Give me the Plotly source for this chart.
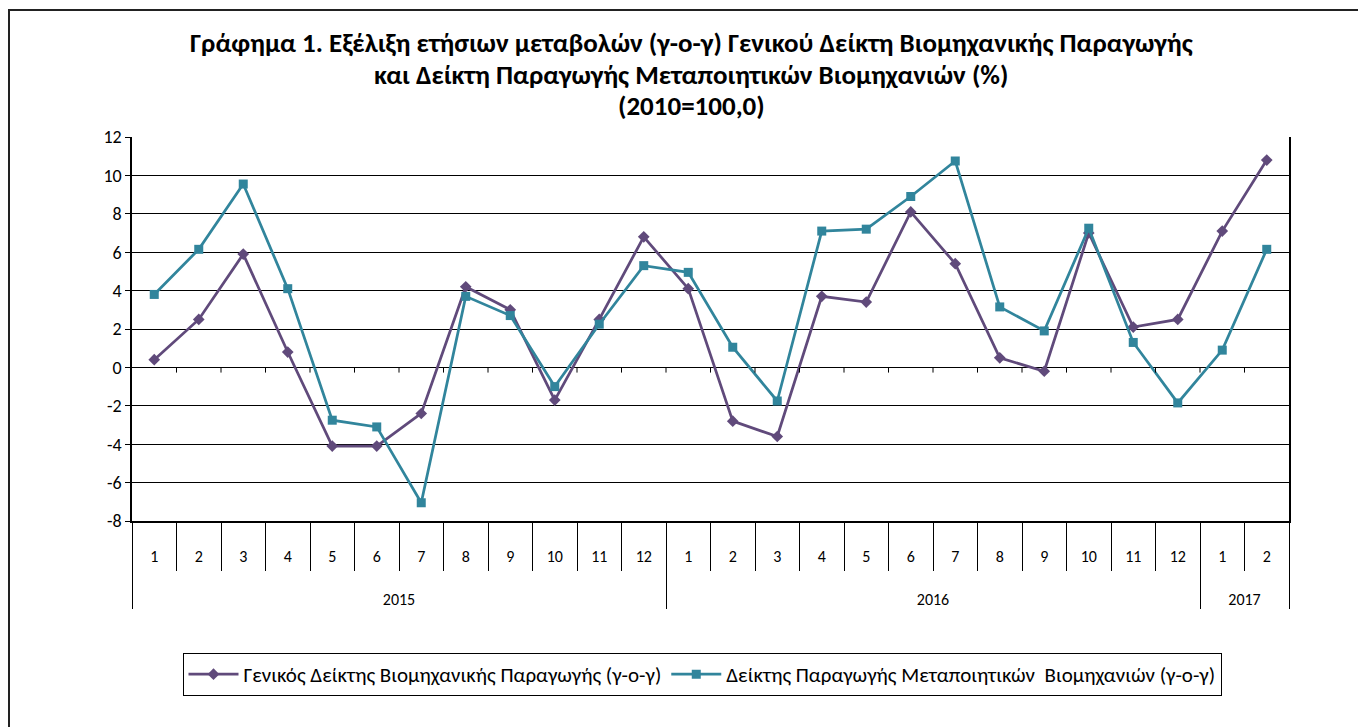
import plotly.graph_objects as go

# ---- data ----
year_labels = ["2015", "2016", "2017"]
months_per_year = [12, 12, 2]
years = [y for y, n in zip(year_labels, months_per_year) for _ in range(n)]
months = [str(m) for n in months_per_year for m in range(1, n + 1)]

general_index = [0.4, 2.5, 5.9, 0.8, -4.1, -4.1, -2.4, 4.2, 3.0, -1.7, 2.5, 6.8,
                 4.1, -2.8, -3.6, 3.7, 3.4, 8.1, 5.4, 0.5, -0.2, 7.0, 2.1, 2.5,
                 7.1, 10.8]
manufacturing_index = [3.8, 6.15, 9.55, 4.1, -2.75, -3.1, -7.05, 3.7, 2.7, -1.0, 2.25, 5.3,
                       4.95, 1.05, -1.75, 7.1, 7.2, 8.9, 10.75, 3.15, 1.9, 7.25, 1.3, -1.85,
                       0.9, 6.15]

series_names = ["Γενικός Δείκτης Βιομηχανικής Παραγωγής (γ-ο-γ)",
                "Δείκτης Παραγωγής Μεταποιητικών  Βιομηχανιών (γ-ο-γ)"]
title_lines = ["Γράφημα 1. Εξέλιξη ετήσιων μεταβολών (γ-ο-γ) Γενικού Δείκτη Βιομηχανικής Παραγωγής",
               "και Δείκτη Παραγωγής Μεταποιητικών Βιομηχανιών (%)",
               "(2010=100,0)"]
y_tick_values = [-8, -6, -4, -2, 0, 2, 4, 6, 8, 10, 12]
y_tick_labels = ["-8", "-6", "-4", "-2", "0", "2", "4", "6", "8", "10", "12"]

FONT = "Carlito, Calibri, 'Noto Sans', sans-serif"
PURPLE = "#604A7B"
TEAL = "#31859C"

OFF = 8  # page body margin
W, H = 1366 - OFF, 727 - OFF
L, T = 132 - OFF, 137 - OFF
PW, PH = 1157, 384
R, B = W - L - PW, H - T - PH


def px_x(px):
    return (px - OFF - L) / PW


def px_y(py):
    return (T + PH - (py - OFF)) / PH


# year level shown lower, below the month cells
x_levels = [["<br><br>" + y for y in years], months]

fig = go.Figure()
fig.add_trace(go.Scatter(
    x=x_levels, y=general_index, name=series_names[0], mode="lines+markers",
    line=dict(color=PURPLE, width=2.75),
    marker=dict(symbol="diamond", size=9, color=PURPLE),
))
fig.add_trace(go.Scatter(
    x=x_levels, y=manufacturing_index, name=series_names[1], mode="lines+markers",
    line=dict(color=TEAL, width=2.75),
    marker=dict(symbol="square", size=9, color=TEAL),
))

n = len(months)
shapes = []
for i in range(1, n):
    shapes.append(dict(type="line", xref="x", yref="y", x0=i - 0.5, x1=i - 0.5,
                       y0=0, y1=-0.27, line=dict(color="black", width=1)))
shapes.append(dict(type="rect", xref="paper", yref="paper",
                   x0=px_x(9), x1=px_x(1362), y0=px_y(780), y1=px_y(10),
                   line=dict(color="#222222", width=2), layer="below"))

annotations = []
for txt, py in zip(title_lines, [42, 74, 105]):
    annotations.append(dict(text="<b>" + txt + "</b>", xref="paper", yref="paper",
                            x=px_x(691), y=px_y(py), xanchor="center", yanchor="middle",
                            showarrow=False, font=dict(family=FONT, size=27, color="black")))

fig.update_layout(
    width=W, height=H,
    margin=dict(l=L, r=R, t=T, b=B, pad=0),
    paper_bgcolor="white", plot_bgcolor="white",
    font=dict(family=FONT, color="black"),
    showlegend=True,
    legend=dict(orientation="h", x=px_x(702), y=px_y(653), xanchor="center", yanchor="top",
                bordercolor="black", borderwidth=1, font=dict(family=FONT, size=21),
                itemwidth=50),
    shapes=shapes,
    annotations=annotations,
    xaxis=dict(
        type="multicategory", range=[-0.5, n - 0.5], showgrid=False,
        showline=True, linecolor="black", linewidth=1.5,
        ticks="outside", ticklen=48, tickcolor="black", tickwidth=1,
        tickfont=dict(family=FONT, size=16), ticklabelstandoff=20,
        showdividers=True, dividercolor="black", dividerwidth=1,
    ),
    yaxis=dict(
        range=[-8, 12], tickvals=y_tick_values, ticktext=y_tick_labels,
        showgrid=True, gridcolor="black", gridwidth=1,
        showline=True, linecolor="black", linewidth=1.5, mirror=True,
        ticks="outside", ticklen=5, tickcolor="black",
        tickfont=dict(family=FONT, size=18), zeroline=False,
    ),
)

fig.write_html("out.html")
